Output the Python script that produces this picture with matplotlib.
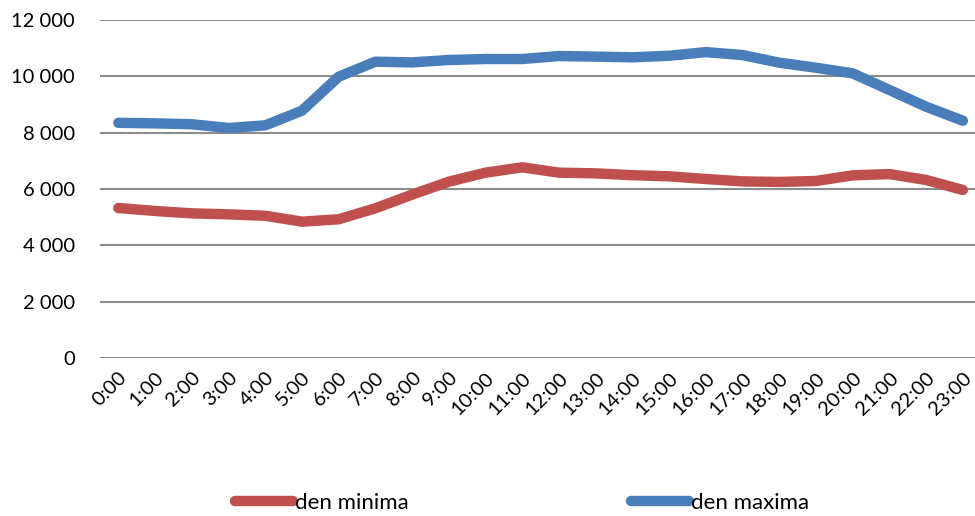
import matplotlib.pyplot as plt

hours = [f"{h}:00" for h in range(24)]
den_minima = [5325, 5220, 5135, 5100, 5050, 4840, 4925, 5315, 5800, 6260, 6580, 6770,
              6580, 6555, 6490, 6450, 6355, 6270, 6250, 6285, 6485, 6530, 6320, 5965]
den_maxima = [8350, 8330, 8300, 8165, 8260, 8780, 9985, 10520, 10495, 10580, 10615, 10615,
              10720, 10700, 10675, 10730, 10860, 10755, 10485, 10305, 10105, 9515, 8920, 8425]
yticks = [0, 2000, 4000, 6000, 8000, 10000, 12000]
ytick_labels = ["0", "2 000", "4 000", "6 000", "8 000", "10 000", "12 000"]

plt.rcParams["font.family"] = ["Lato", "DejaVu Sans"]

fig = plt.figure(figsize=(9.75, 5.16), dpi=100)
ax = fig.add_axes([100 / 975, 1 - 358 / 516, 1 - 100 / 975, 338 / 516])

x = list(range(len(hours)))
ax.plot(x, den_minima, color="#C0504D", lw=7.5, solid_capstyle="round",
        solid_joinstyle="round", label="den minima")
ax.plot(x, den_maxima, color="#4A7EBB", lw=7.5, solid_capstyle="round",
        solid_joinstyle="round", label="den maxima")

ax.set_xlim(-0.5, 23.33)
ax.set_ylim(0, 12000)
ax.set_yticks(yticks)
ax.set_yticklabels(ytick_labels, fontsize=14.5)
ax.set_xticks(x)
ax.set_xticklabels(hours, fontsize=14.5, rotation=45, ha="right", rotation_mode="anchor")
ax.tick_params(axis="both", length=0)
ax.tick_params(axis="y", pad=18)
ax.tick_params(axis="x", pad=8)
for s in ax.spines.values():
    s.set_visible(False)
ax.grid(axis="y", color="#8C8C8C", lw=1.5)
ax.set_axisbelow(True)

fig.legend(loc="center", bbox_to_anchor=(522 / 975, 1 - 503 / 516), ncol=2, frameon=False,
           fontsize=16, handlelength=2.6, handletextpad=0.1, columnspacing=10)

fig.savefig("out.png", dpi=100)
